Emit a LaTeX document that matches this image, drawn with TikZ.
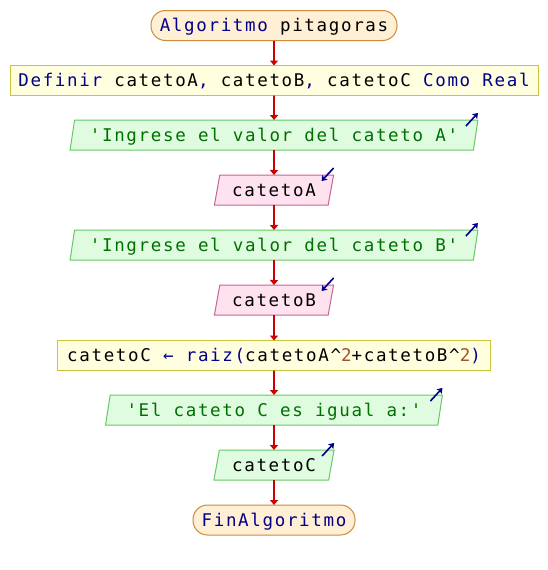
\documentclass[tikz,border=0pt]{standalone}
\usepackage{fontspec}
\setmonofont[LetterSpace=9.5]{DejaVu Sans Mono}
\usetikzlibrary{shapes.geometric,arrows.meta}

\definecolor{termfill}{HTML}{FFEFD4}
\definecolor{termline}{HTML}{CC8A3C}
\definecolor{procfill}{HTML}{FFFFE0}
\definecolor{procline}{HTML}{C8C43C}
\definecolor{outfill}{HTML}{E0FCE0}
\definecolor{outline}{HTML}{66C866}
\definecolor{infill}{HTML}{FFE2F0}
\definecolor{inline}{HTML}{C86496}
\definecolor{flowred}{HTML}{CC0000}
\definecolor{kw}{HTML}{000088}
\definecolor{str}{HTML}{007000}
\definecolor{num}{HTML}{A0522D}

\newcommand{\kw}[1]{{\color{kw}#1}}
\newcommand{\str}[1]{{\color{str}#1}}
\newcommand{\num}[1]{{\color{num}#1}}

\tikzset{
  base/.style={inner sep=0pt, outer sep=0pt, minimum height=30pt,
    font=\ttfamily\fontsize{17.5}{17.5}\selectfont,
    text height=12.5pt, text depth=0pt, line width=1pt},
  terminal/.style={base, rectangle, rounded corners=14.5pt,
    draw=termline, fill=termfill},
  process/.style={base, rectangle, draw=procline, fill=procfill},
  io/.style={base, trapezium, trapezium left angle=71.57,
    trapezium right angle=108.43, trapezium stretches=true},
  outbox/.style={io, draw=outline, fill=outfill},
  inbox/.style={io, draw=inline, fill=infill},
  flow/.style={draw=flowred, line width=1.6pt,
    -{Triangle[length=5pt,width=8pt]}},
  iomark/.style={draw=kw, line width=1.6pt,
    -{Stealth[length=5pt,width=7pt,inset=1pt]}}
}

\begin{document}
\begin{tikzpicture}[x=1pt,y=-1pt]
  \useasboundingbox (0,0) rectangle (548,570);

  \node[terminal, minimum width=246pt] (start) at (274,25.5)
    {\kw{Algoritmo} pitagoras};
  \node[process, minimum width=528pt] (decl) at (274,80.5)
    {\kw{Definir} catetoA\kw{,} catetoB\kw{,} catetoC \kw{Como Real}};
  \node[outbox, minimum width=408pt] (outA) at (274,135)
    {\str{'Ingrese el valor del cateto A'}};
  \node[inbox, minimum width=120pt] (inA) at (274,190) {catetoA};
  \node[outbox, minimum width=408pt] (outB) at (274,245)
    {\str{'Ingrese el valor del cateto B'}};
  \node[inbox, minimum width=120pt] (inB) at (274,300) {catetoB};
  \node[process, minimum width=433pt] (calc) at (274,355.5)
    {catetoC \kw{←} \kw{raiz(}catetoA\textasciicircum\num{2}+catetoB\textasciicircum\num{2}\kw{)}};
  \node[outbox, minimum width=337pt] (outC) at (274,410)
    {\str{'El cateto C es igual a:'}};
  \node[outbox, minimum width=121pt] (showC) at (274,465) {catetoC};
  \node[terminal, minimum width=162pt] (finish) at (274,520)
    {\kw{FinAlgoritmo}};

  % flow between the steps
  \draw[flow] (start.south) -- (decl.north);
  \draw[flow] (decl.south) -- (outA.north);
  \draw[flow] (outA.south) -- (inA.north);
  \draw[flow] (inA.south) -- (outB.north);
  \draw[flow] (outB.south) -- (inB.north);
  \draw[flow] (inB.south) -- (calc.north);
  \draw[flow] (calc.south) -- (outC.north);
  \draw[flow] (outC.south) -- (showC.north);
  \draw[flow] (showC.south) -- (finish.north);

  % output marks (pointing out) and input marks (pointing in)
  \foreach \n in {outA,outB,outC,showC}
    \draw[iomark] ([shift={(-12,6)}]\n.top right corner) -- ([shift={(0,-7)}]\n.top right corner);
  \foreach \n in {inA,inB}
    \draw[iomark] ([shift={(0,-7)}]\n.top right corner) -- ([shift={(-12,6)}]\n.top right corner);
\end{tikzpicture}
\end{document}
